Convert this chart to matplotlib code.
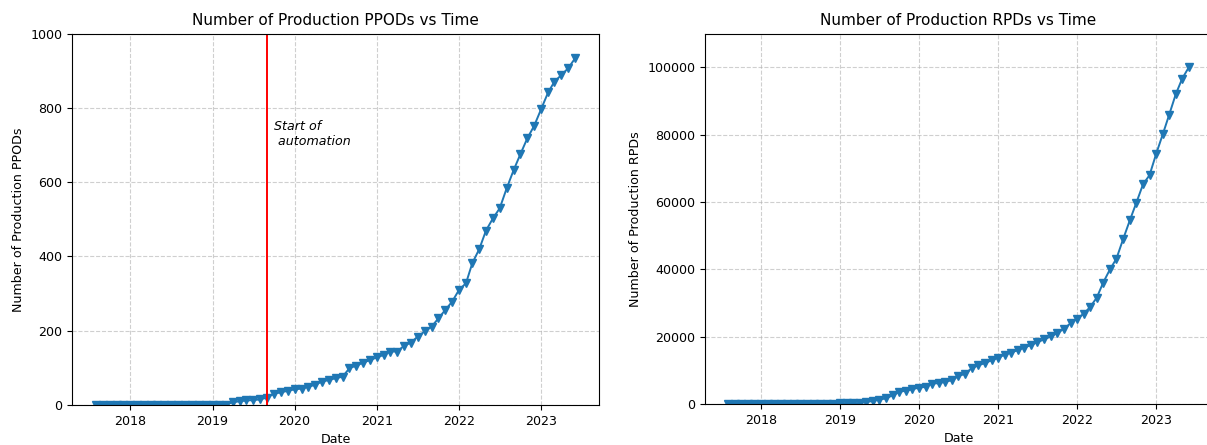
import matplotlib

matplotlib.use("Agg")
import matplotlib.pyplot as plt
import pandas as pd

# monthly counts, Aug 2017 .. Jun 2023
months = pd.date_range("2017-08-01", "2023-06-01", freq="MS")

ppods = [1] * 20 + [
    7, 10, 12, 13, 15, 20, 30, 34, 38,                      # 2019-04 .. 2019-12
    42, 44, 49, 54, 63, 67, 72, 76, 99, 106, 114, 121,      # 2020
    128, 135, 144, 144, 159, 168, 184, 198, 211, 233, 256, 278,  # 2021
    310, 328, 382, 420, 470, 503, 530, 584, 633, 676, 719, 752,  # 2022
    797, 842, 871, 889, 907, 934,                           # 2023
]

rpds = [100] * 17 + [
    400, 200, 200, 300, 600, 900, 1300, 1700, 2600, 3600, 4000, 4400,       # 2019
    4900, 5100, 6100, 6200, 6600, 7100, 8300, 9000, 10700, 11500, 12200, 13000,  # 2020
    13800, 14700, 15300, 16000, 16800, 17500, 18400, 19200, 20100, 21100, 22400, 24000,  # 2021
    25400, 26900, 28800, 31600, 36100, 40000, 43200, 49000, 54600, 59800, 65300, 68000,  # 2022
    74400, 80300, 85800, 92000, 96700, 100100,              # 2023
]

automation_start = pd.Timestamp("2019-09-01")

plt.rcParams["font.size"] = 9.1
plt.rcParams["axes.titlesize"] = 11

fig = plt.figure(figsize=(12.07, 4.45), dpi=100)
ax1 = fig.add_axes([0.0597, 0.090, 0.4366, 0.834])
# right panel runs past the picture's right edge (cropped screenshot)
ax2 = fig.add_axes([0.5841, 0.092, 0.4200, 0.832])

line_kw = dict(marker="v", color="tab:blue", markersize=5.5, linewidth=1.4)

ax1.plot(months, ppods, **line_kw)
ax1.axvline(automation_start, color="red", linewidth=1.4)
ax1.text(pd.Timestamp("2019-10-01"), 700, "Start of\n automation", style="italic")
ax1.set_ylim(0, 1000)
ax1.set_title("Number of Production PPODs vs Time")
ax1.set_xlabel("Date")
ax1.set_ylabel("Number of Production PPODs")
ax1.grid(True, linestyle="--", alpha=0.6)

ax2.plot(months, rpds, **line_kw)
ax2.set_ylim(0, 110000)
ax2.set_title("Number of Production RPDs vs Time")
ax2.set_xlabel("Date")
ax2.set_ylabel("Number of Production RPDs")
ax2.grid(True, linestyle="--", alpha=0.6)

fig.savefig("out.png", dpi=100)
plt.close(fig)
